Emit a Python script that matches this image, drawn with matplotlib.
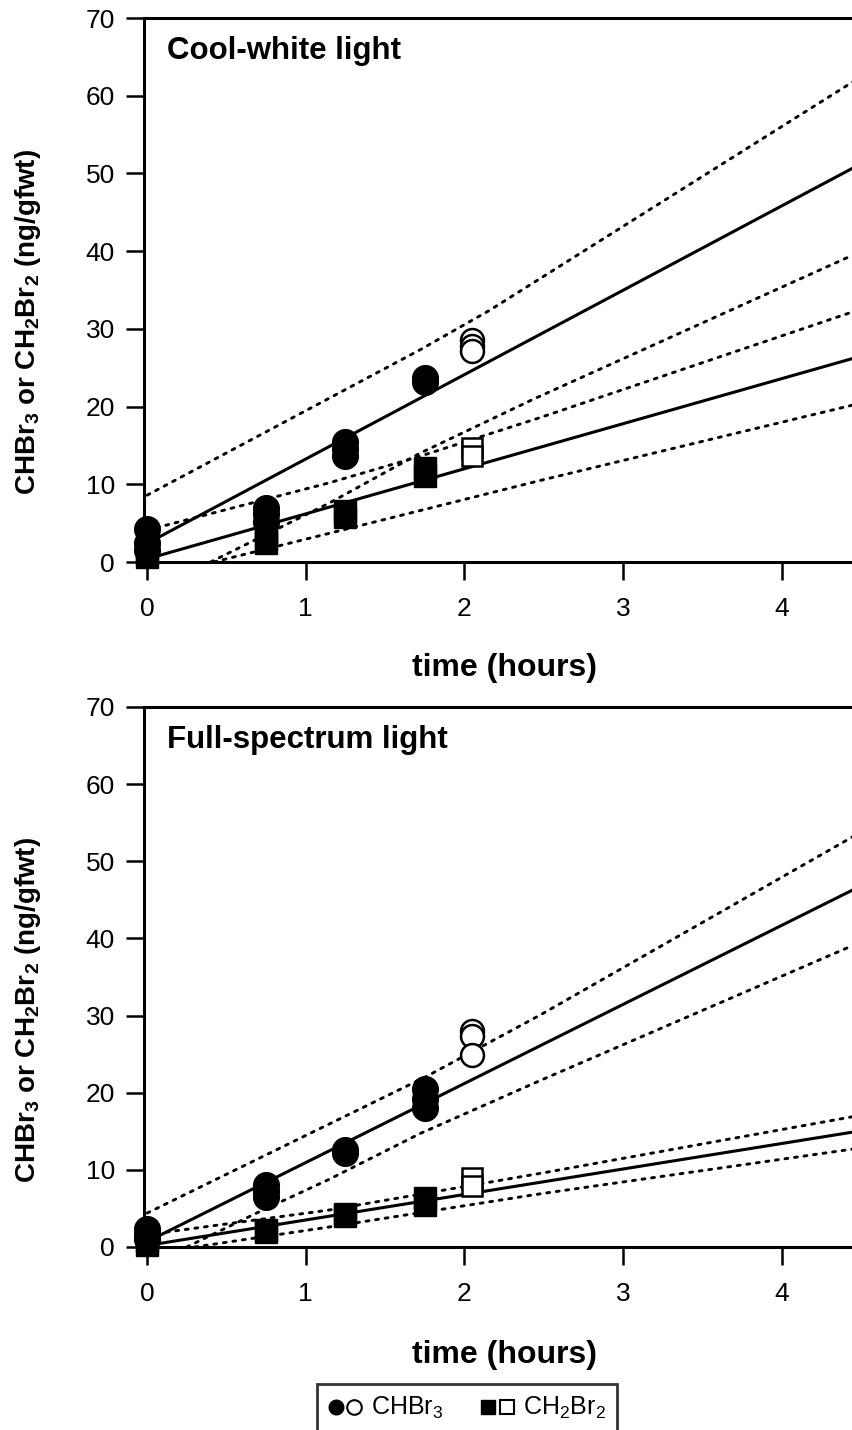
import matplotlib
matplotlib.use("Agg")
import matplotlib.pyplot as plt
from matplotlib.lines import Line2D
from matplotlib.legend_handler import HandlerTuple

plt.rcParams["font.family"] = ["Liberation Sans", "DejaVu Sans"]
plt.rcParams["mathtext.fontset"] = "custom"
plt.rcParams["mathtext.rm"] = "Liberation Sans"
plt.rcParams["mathtext.bf"] = "Liberation Sans:bold"

# ---------------------------
# Data (time in hours, ng/gfwt)
# ---------------------------
x_ticks = [0, 1, 2, 3, 4]
y_ticks = [0, 10, 20, 30, 40, 50, 60, 70]

# cool-white light
cw_chbr3_t = [0, 0, 0, 0.75, 0.75, 0.75, 1.25, 1.25, 1.25, 1.75, 1.75]
cw_chbr3 = [4.2, 2.5, 1.5, 7.0, 6.2, 5.2, 15.5, 14.6, 13.7, 23.7, 23.2]
cw_chbr3_open_t = [2.05, 2.05, 2.05]
cw_chbr3_open = [28.6, 27.8, 27.2]
cw_ch2br2_t = [0, 0, 0.75, 0.75, 0.75, 1.25, 1.25, 1.75, 1.75]
cw_ch2br2 = [1.2, 0.6, 4.0, 3.0, 2.5, 6.6, 5.8, 12.1, 11.1]
cw_ch2br2_open_t = [2.05, 2.05]
cw_ch2br2_open = [14.7, 13.6]

cw_fit_t = [0, 4.45]
cw_chbr3_fit = [2.4, 50.7]
cw_ch2br2_fit = [0.4, 26.2]
cw_chbr3_hi_t = [0, 1.72, 2.16, 4.45]
cw_chbr3_hi = [8.6, 27.3, 32.4, 61.8]
cw_chbr3_lo_t = [0.40, 1.15, 1.72, 2.44, 4.45]
cw_chbr3_lo = [0.0, 7.6, 14.0, 21.0, 39.5]
cw_ch2br2_hi_t = [0, 1.15, 1.72, 2.48, 4.45]
cw_ch2br2_hi = [4.1, 10.2, 13.6, 18.6, 32.2]
cw_ch2br2_lo_t = [0.42, 1.15, 2.48, 4.45]
cw_ch2br2_lo = [0.0, 3.7, 10.5, 20.2]

# full-spectrum light
fs_chbr3_t = [0, 0, 0, 0.75, 0.75, 0.75, 1.25, 1.25, 1.75, 1.75, 1.75]
fs_chbr3 = [2.3, 1.5, 1.0, 8.0, 7.2, 6.5, 12.6, 12.2, 20.5, 19.2, 18.0]
fs_chbr3_open_t = [2.05, 2.05, 2.05]
fs_chbr3_open = [28.0, 27.3, 24.9]
fs_ch2br2_t = [0, 0, 0.75, 0.75, 1.25, 1.25, 1.75, 1.75]
fs_ch2br2 = [0.8, 0.3, 2.2, 2.0, 4.3, 4.0, 6.3, 5.4]
fs_ch2br2_open_t = [2.05, 2.05]
fs_ch2br2_open = [8.9, 7.9]

fs_fit_t = [0, 4.45]
fs_chbr3_fit = [0.7, 46.3]
fs_ch2br2_fit = [0.2, 14.9]
fs_chbr3_hi_t = [0, 1.76, 2.48, 4.45]
fs_chbr3_hi = [4.4, 22.1, 30.1, 53.2]
fs_chbr3_lo_t = [0.25, 0.69, 1.15, 1.72, 2.48, 4.45]
fs_chbr3_lo = [0.0, 4.4, 8.8, 14.7, 21.6, 39.1]
fs_ch2br2_hi_t = [0, 1.15, 2.48, 4.45]
fs_ch2br2_hi = [1.6, 4.8, 9.55, 16.9]
fs_ch2br2_lo_t = [0.30, 1.15, 2.48, 4.45]
fs_ch2br2_lo = [0.0, 2.6, 6.9, 12.7]

DOT = (0, (1, 2.3))

fig = plt.figure(figsize=(8.53, 14.30), dpi=100)
ax1 = fig.add_axes([144 / 853, 1 - 562 / 1430, 709 / 853, 544 / 1430])
ax2 = fig.add_axes([144 / 853, 1 - 1247 / 1430, 709 / 853, 540 / 1430])


def panel(ax, title, pts, fits, bands):
    for t, y in bands:
        ax.plot(t, y, color="black", lw=2.1, linestyle=DOT, dash_capstyle="round")
    for t, y in fits:
        ax.plot(t, y, color="black", lw=2.2)

    (c_t, c_y, co_t, co_y, s_t, s_y, so_t, so_y) = pts
    ax.plot(s_t, s_y, "s", ms=15.5, color="black", clip_on=False, zorder=5)
    ax.plot(so_t, so_y, "s", ms=15, mfc="white", mec="black", mew=1.8,
            clip_on=False, zorder=5)
    ax.plot(c_t, c_y, "o", ms=18.5, color="black", clip_on=False, zorder=6)
    ax.plot(co_t, co_y, "o", ms=16.5, mfc="white", mec="black", mew=1.8,
            clip_on=False, zorder=6)

    ax.set_xlim(-0.02, 4.45)
    ax.set_ylim(0, 70)
    ax.set_xticks(x_ticks)
    ax.set_yticks(y_ticks)
    ax.spines["right"].set_visible(False)
    for s in ["left", "top", "bottom"]:
        ax.spines[s].set_linewidth(2.2)
    ax.tick_params(axis="both", direction="out", length=13, width=1.8,
                   labelsize=19)
    ax.tick_params(axis="x", pad=12)
    ax.tick_params(axis="y", pad=8)
    ax.text(0.032, 0.966, title, transform=ax.transAxes, ha="left", va="top",
            fontsize=22.5, fontweight="bold")


panel(ax1, "Cool-white light",
      (cw_chbr3_t, cw_chbr3, cw_chbr3_open_t, cw_chbr3_open,
       cw_ch2br2_t, cw_ch2br2, cw_ch2br2_open_t, cw_ch2br2_open),
      [(cw_fit_t, cw_chbr3_fit), (cw_fit_t, cw_ch2br2_fit)],
      [(cw_chbr3_hi_t, cw_chbr3_hi), (cw_chbr3_lo_t, cw_chbr3_lo),
       (cw_ch2br2_hi_t, cw_ch2br2_hi), (cw_ch2br2_lo_t, cw_ch2br2_lo)])

panel(ax2, "Full-spectrum light",
      (fs_chbr3_t, fs_chbr3, fs_chbr3_open_t, fs_chbr3_open,
       fs_ch2br2_t, fs_ch2br2, fs_ch2br2_open_t, fs_ch2br2_open),
      [(fs_fit_t, fs_chbr3_fit), (fs_fit_t, fs_ch2br2_fit)],
      [(fs_chbr3_hi_t, fs_chbr3_hi), (fs_chbr3_lo_t, fs_chbr3_lo),
       (fs_ch2br2_hi_t, fs_ch2br2_hi), (fs_ch2br2_lo_t, fs_ch2br2_lo)])

ylab = r"CHBr$_\mathbf{3}$ or CH$_\mathbf{2}$Br$_\mathbf{2}$ (ng/gfwt)"
fig.text(28 / 853, 1 - 322 / 1430, ylab, rotation=90, ha="center", va="center",
         fontsize=20, fontweight="bold")
fig.text(28 / 853, 1 - 1010 / 1430, ylab, rotation=90, ha="center", va="center",
         fontsize=20, fontweight="bold")
fig.text(505 / 853, 1 - 668 / 1430, "time (hours)", ha="center", va="center",
         fontsize=23, fontweight="bold")
fig.text(505 / 853, 1 - 1355 / 1430, "time (hours)", ha="center", va="center",
         fontsize=23, fontweight="bold")

# ---------------------------
# Legend
# ---------------------------
fc = Line2D([], [], marker="o", ls="", ms=10.5, color="black")
oc = Line2D([], [], marker="o", ls="", ms=10.5, mfc="white", mec="black", mew=1.5)
fsq = Line2D([], [], marker="s", ls="", ms=10, color="black")
osq = Line2D([], [], marker="s", ls="", ms=10, mfc="white", mec="black", mew=1.5)
leg = fig.legend([(fc, oc), (fsq, osq)], [r"CHBr$_3$", r"CH$_2$Br$_2$"],
                 handler_map={tuple: HandlerTuple(ndivide=None, pad=0.15)},
                 loc="upper center", bbox_to_anchor=(467 / 853, 1 - 1384 / 1430),
                 ncol=2, fontsize=18, frameon=True, fancybox=False,
                 handlelength=1.35, handletextpad=0.35, columnspacing=1.5,
                 borderpad=0.45, borderaxespad=0)
leg.get_frame().set_edgecolor("black")
leg.get_frame().set_linewidth(2.0)

fig.savefig("out.png", dpi=100)
